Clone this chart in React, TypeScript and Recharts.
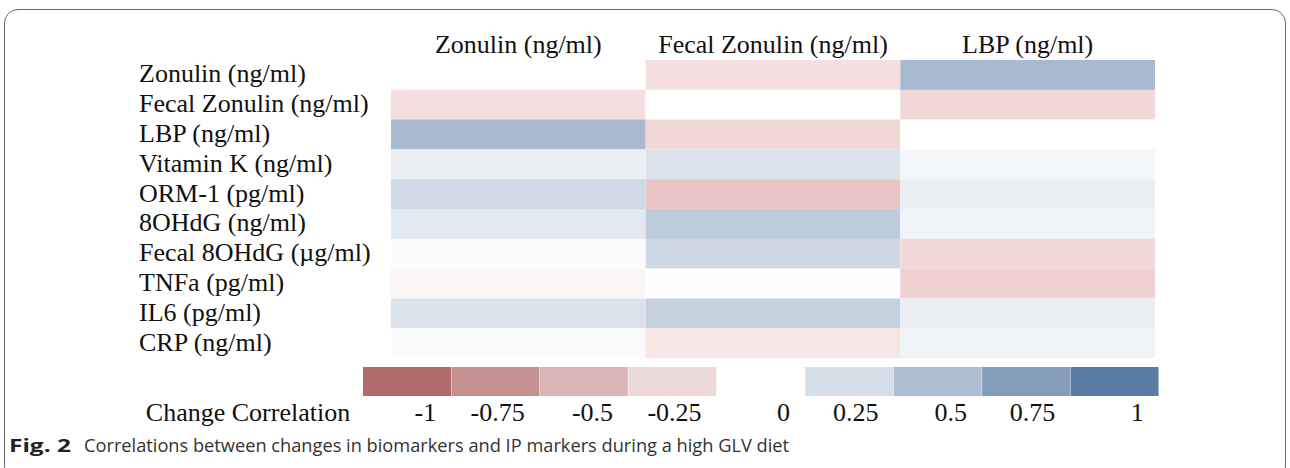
import { BarChart, Bar, Cell, XAxis, YAxis } from "recharts";

// rows (biomarkers) and columns (IP markers)
const rowLabels = [
  "Zonulin (ng/ml)",
  "Fecal Zonulin (ng/ml)",
  "LBP (ng/ml)",
  "Vitamin K (ng/ml)",
  "ORM-1 (pg/ml)",
  "8OHdG (ng/ml)",
  "Fecal 8OHdG (µg/ml)",
  "TNFa (pg/ml)",
  "IL6 (pg/ml)",
  "CRP (ng/ml)",
];
const columnLabels = ["Zonulin (ng/ml)", "Fecal Zonulin (ng/ml)", "LBP (ng/ml)"];

// change correlations, one array per column
const zonulinCorr = [0, -0.22, 0.53, 0.13, 0.29, 0.17, 0.03, -0.07, 0.21, 0.03];
const fecalZonulinCorr = [-0.22, 0, -0.27, 0.21, -0.39, 0.4, 0.3, -0.01, 0.35, -0.17];
const lbpCorr = [0.53, -0.26, 0, 0.07, 0.12, 0.09, -0.26, -0.31, 0.12, 0.09];

// colour key
const legendValues = [-1, -0.75, -0.5, -0.25, 0, 0.25, 0.5, 0.75, 1];
const legendLabels = ["-1", "-0.75", "-0.5", "-0.25", "0", "0.25", "0.5", "0.75", "1"];

const SERIF = '"Liberation Serif", "Times New Roman", serif';
const SANS = '"Open Sans", "Noto Sans", sans-serif';
const FS = 26;

const KEY_RED = [178, 107, 107];
const CELL_RED = [205, 105, 108];
const BLUE = [90, 124, 164];

function mix(end: number[], v: number) {
  const t = Math.min(1, Math.abs(v));
  const c = end.map((e) => Math.round(255 + (e - 255) * t));
  return `rgb(${c[0]},${c[1]},${c[2]})`;
}
const keyColor = (v: number) => mix(v < 0 ? KEY_RED : BLUE, v);
const cellColor = (v: number) => mix(v < 0 ? CELL_RED : BLUE, v);

const HeaderTick = (props: any) => {
  const { x, payload } = props;
  return (
    <text x={x} y={44} textAnchor="middle" dominantBaseline="central" fontFamily={SERIF} fontSize={FS} fill="#111">
      {columnLabels[Math.round(payload.value - 0.5)]}
    </text>
  );
};

const RowTick = (props: any) => {
  const { y, payload } = props;
  return (
    <text x={139} y={y - 1} textAnchor="start" dominantBaseline="central" fontFamily={SERIF} fontSize={FS} fill="#111">
      {payload.value}
    </text>
  );
};

const KeyTick = (props: any) => {
  const { x, payload, index } = props;
  return (
    <text x={x + 29} y={412} textAnchor="end" dominantBaseline="central" fontFamily={SERIF} fontSize={FS} fill="#111">
      {legendLabels[index] ?? payload.value}
    </text>
  );
};

function HeatMap() {
  const data = rowLabels.map((name, i) => ({
    name,
    a: 1,
    b: 1,
    c: 1,
    va: zonulinCorr[i],
    vb: fecalZonulinCorr[i],
    vc: lbpCorr[i],
  }));
  return (
    <BarChart
      layout="vertical"
      width={1290}
      height={468}
      data={data}
      margin={{ top: 0, right: 135, bottom: 110, left: 139 }}
      barCategoryGap={0}
    >
      <XAxis
        type="number"
        orientation="top"
        domain={[0, 3]}
        ticks={[0.5, 1.5, 2.5]}
        height={60}
        axisLine={false}
        tickLine={false}
        tick={<HeaderTick />}
      />
      <YAxis
        type="category"
        dataKey="name"
        width={252}
        axisLine={false}
        tickLine={false}
        interval={0}
        tick={<RowTick />}
      />
      <Bar dataKey="a" stackId="s" isAnimationActive={false}>
        {data.map((d, i) => (
          <Cell key={i} fill={cellColor(d.va)} />
        ))}
      </Bar>
      <Bar dataKey="b" stackId="s" isAnimationActive={false}>
        {data.map((d, i) => (
          <Cell key={i} fill={cellColor(d.vb)} />
        ))}
      </Bar>
      <Bar dataKey="c" stackId="s" isAnimationActive={false}>
        {data.map((d, i) => (
          <Cell key={i} fill={cellColor(d.vc)} />
        ))}
      </Bar>
    </BarChart>
  );
}

function ColorKey() {
  const data = legendValues.map((v) => ({ v, one: 1 }));
  return (
    <BarChart
      width={1290}
      height={468}
      data={data}
      margin={{ top: 367, right: 131, bottom: 42, left: 363 }}
      barCategoryGap={0}
    >
      <XAxis dataKey="v" type="category" height={30} axisLine={false} tickLine={false} interval={0} tick={<KeyTick />} />
      <YAxis hide domain={[0, 1]} />
      <Bar dataKey="one" isAnimationActive={false}>
        {data.map((d, i) => (
          <Cell key={i} fill={keyColor(d.v)} />
        ))}
      </Bar>
    </BarChart>
  );
}

export default function App() {
  return (
    <div style={{ position: "absolute", left: 0, top: 0, width: 1290, height: 468, background: "#fff", overflow: "hidden" }}>
      <div
        style={{
          position: "absolute",
          left: 4,
          top: 9,
          width: 1280,
          height: 470,
          border: "1.5px solid #6a6a6a",
          borderRadius: 14,
        }}
      />
      <div style={{ position: "absolute", left: 0, top: 0 }}>
        <HeatMap />
      </div>
      <div style={{ position: "absolute", left: 0, top: 0 }}>
        <ColorKey />
      </div>
      <svg width={1290} height={468} style={{ position: "absolute", left: 0, top: 0, pointerEvents: "none" }}>
        <text x={248} y={412} textAnchor="middle" dominantBaseline="central" fontFamily={SERIF} fontSize={FS} fill="#111">
          Change Correlation
        </text>
        <text x={9} y={452} fontFamily={SANS} fontSize={18} fontWeight={700} fill="#222" textLength={62} lengthAdjust="spacingAndGlyphs">
          Fig. 2
        </text>
        <text x={84} y={452} fontFamily={SANS} fontSize={18} fill="#333" textLength={705} lengthAdjust="spacingAndGlyphs">
          Correlations between changes in biomarkers and IP markers during a high GLV diet
        </text>
      </svg>
    </div>
  );
}
